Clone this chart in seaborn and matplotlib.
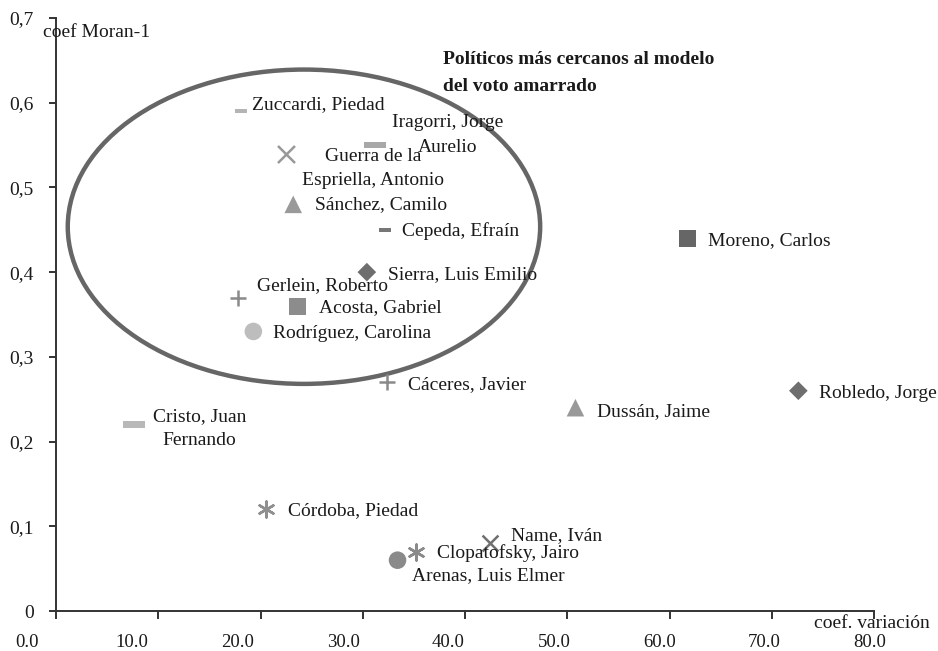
import matplotlib
matplotlib.use("Agg")
import matplotlib.pyplot as plt
import matplotlib.patches as mpatches
import matplotlib.transforms as mtransforms
import seaborn as sns
import pandas as pd

# politicians, coefficient of variation (x) and Moran-1 coefficient (y)
names = ["Zuccardi, Piedad", "Iragorri, Jorge\nAurelio", "Guerra de la\nEspriella, Antonio",
         "Sánchez, Camilo", "Cepeda, Efraín", "Sierra, Luis Emilio", "Gerlein, Roberto",
         "Acosta, Gabriel", "Rodríguez, Carolina", "Cáceres, Javier", "Cristo, Juan\nFernando",
         "Córdoba, Piedad", "Name, Iván", "Clopatofsky, Jairo", "Arenas, Luis Elmer",
         "Moreno, Carlos", "Dussán, Jaime", "Robledo, Jorge"]
coef_var = [18.1, 31.2, 22.5, 23.2, 32.2, 30.4, 17.8, 23.6, 19.3, 32.4, 7.6,
            20.5, 42.4, 35.2, 33.4, 61.8, 50.8, 72.6]
moran = [0.59, 0.55, 0.54, 0.48, 0.45, 0.40, 0.37, 0.36, 0.33, 0.27, 0.22,
         0.12, 0.08, 0.07, 0.06, 0.44, 0.24, 0.26]

x_ticks = [0, 10, 20, 30, 40, 50, 60, 70, 80]
y_ticks = [0, 0.1, 0.2, 0.3, 0.4, 0.5, 0.6, 0.7]

# styles (separate from the data)
dash = [(-1, -0.3), (1, -0.3), (1, 0.3), (-1, 0.3)]
markers = [dash, dash, "x", "^", dash, "D", "+", "s", "o", "+", dash,
           (6, 2, 0), "x", (6, 2, 0), "o", "s", "^", "D"]
sizes = [70, 260, 150, 160, 70, 90, 120, 150, 160, 120, 260,
         130, 130, 130, 160, 150, 160, 90]
colors = ["#b4b4b4", "#a8a8a8", "#999999", "#9a9a9a", "#777777", "#6e6e6e", "#8a8a8a",
          "#8c8c8c", "#bdbdbd", "#8a8a8a", "#b8b8b8", "#8f8f8f", "#707070", "#8a8a8a",
          "#8a8a8a", "#666666", "#999999", "#6e6e6e"]
# label offsets in pixels and alignment
offsets = [(11, 7), (73, 10), (87, -15), (22, 0), (17, -1), (21, -2), (19, 12),
           (22, -2), (20, -2), (21, -2), (66, -4), (22, -1), (21, 8), (21, -1),
           (14, -15), (20, -2), (22, -4), (21, -3)]
align = ["left", "center", "center", "left", "left", "left", "left", "left", "left",
         "left", "center", "left", "left", "left", "left", "left", "left", "left"]

df = pd.DataFrame({"name": names, "cv": coef_var, "moran": moran})

sns.set_theme(style="ticks")
plt.rcParams["font.family"] = ["Liberation Serif", "DejaVu Serif"]

fig, ax = plt.subplots(figsize=(9.38, 6.51), dpi=100)
fig.subplots_adjust(left=0.0597, right=0.9318, top=0.9724, bottom=0.0614)

for i, row in df.iterrows():
    m = markers[i]
    line_art = m in ("x", "+") or isinstance(m, tuple)
    if line_art:
        sns.scatterplot(data=df.iloc[[i]], x="cv", y="moran", marker=m, s=sizes[i],
                        color=colors[i], linewidth=1.8, ax=ax, zorder=3)
    else:
        sns.scatterplot(data=df.iloc[[i]], x="cv", y="moran", marker=m, s=sizes[i],
                        color=colors[i], edgecolor="none", linewidth=0, ax=ax, zorder=3)
    ax.annotate(row["name"], (row["cv"], row["moran"]), xytext=offsets[i],
                textcoords="offset pixels", ha=align[i], va="center", fontsize=14,
                color="#1a1a1a", multialignment="center", linespacing=1.55)

ell = mpatches.Ellipse((24.25, 0.4536), 46.2, 0.371, fill=False,
                       edgecolor="#666666", linewidth=3.2, zorder=2)
ax.add_patch(ell)

ax.text(37.85, 0.635, "Políticos más cercanos al modelo\ndel voto amarrado",
        fontsize=14, fontweight="bold", color="#1a1a1a", va="center", ha="left",
        linespacing=1.75)

ax.set_xlim(0, 80)
ax.set_ylim(0, 0.7)
ax.set_xticks(x_ticks)
ax.set_xticklabels([])
ax.set_yticks(y_ticks)
ax.set_yticklabels(["0" if v == 0 else f"{v:.1f}".replace(".", ",") for v in y_ticks])
ax.set_xlabel("")
ax.set_ylabel("")
sns.despine(ax=ax)
for sp in ["left", "bottom"]:
    ax.spines[sp].set_color("#333333")
    ax.spines[sp].set_linewidth(1.4)
ax.tick_params(axis="y", length=5, width=1.4, color="#333333", pad=11, labelsize=14,
               labelcolor="#1a1a1a")
ax.tick_params(axis="x", length=6, width=1.4, color="#333333")

# x tick labels sit a little left of their ticks in the original
trans = mtransforms.blended_transform_factory(ax.transData, ax.transAxes)
for v in x_ticks:
    ax.text(-2.84 + 1.0305 * v, -0.0523, f"{v:.1f}", transform=trans, ha="center",
            va="center", fontsize=13.5, color="#1a1a1a")

ax.text(-0.016, 0.976, "coef Moran-1", transform=ax.transAxes, ha="left", va="center",
        fontsize=14, color="#1a1a1a")
ax.text(1.068, -0.021, "coef. variación", transform=ax.transAxes, ha="right", va="center",
        fontsize=14, color="#1a1a1a")

fig.savefig("out.png", dpi=100)
